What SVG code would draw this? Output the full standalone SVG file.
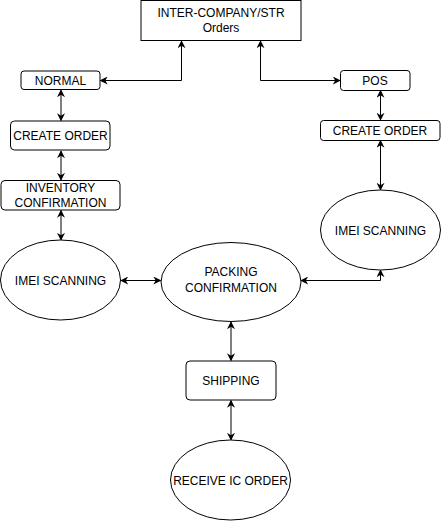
<svg xmlns="http://www.w3.org/2000/svg" width="441" height="521" viewBox="0 0 441 521">
<defs>
<style>
.n{fill:#fff;stroke:#000;stroke-width:1}
.t{font-family:"Liberation Sans",Arial,Helvetica,sans-serif;font-size:12px;fill:#000;text-anchor:middle}
.c{fill:none;stroke:#000;stroke-width:1}
</style>
<marker id="a" viewBox="0 0 10 10" refX="9" refY="5" markerWidth="8" markerHeight="8" orient="auto-start-reverse" markerUnits="userSpaceOnUse">
<path d="M0,0 L10,5 L0,10 L3,5 Z" fill="#000"/>
</marker>
</defs>
<rect width="441" height="521" fill="#fff"/>
<g id="connectors">
<path class="c" d="M100.5,80.5 H181.5 V41" marker-start="url(#a)" marker-end="url(#a)"/>
<path class="c" d="M260.5,41 V80.5 H340" marker-start="url(#a)" marker-end="url(#a)"/>
<path class="c" d="M61,90 V120.5" marker-start="url(#a)" marker-end="url(#a)"/>
<path class="c" d="M61,151 V180" marker-start="url(#a)" marker-end="url(#a)"/>
<path class="c" d="M61,210.5 V240" marker-start="url(#a)" marker-end="url(#a)"/>
<path class="c" d="M380.5,90.5 V120" marker-start="url(#a)" marker-end="url(#a)"/>
<path class="c" d="M380.5,140.5 V190" marker-start="url(#a)" marker-end="url(#a)"/>
<path class="c" d="M121,280.5 H160.5" marker-start="url(#a)" marker-end="url(#a)"/>
<path class="c" d="M301,280.5 H380.5 V270" marker-start="url(#a)" marker-end="url(#a)"/>
<path class="c" d="M231,322 V360.5" marker-start="url(#a)" marker-end="url(#a)"/>
<path class="c" d="M231,400.5 V440" marker-start="url(#a)" marker-end="url(#a)"/>
</g>
<g id="intercompany">
<rect class="n" x="141" y="0.5" width="160" height="40"/>
<text class="t" x="221" y="17">INTER-COMPANY/STR</text>
<text class="t" x="221" y="32">Orders</text>
</g>
<g id="normal">
<rect class="n" x="21" y="71" width="79" height="18.5" rx="3"/>
<text class="t" x="60.5" y="84.5">NORMAL</text>
</g>
<g id="create-order-left">
<rect class="n" x="10.5" y="121" width="99.5" height="29" rx="4"/>
<text class="t" x="60.5" y="140">CREATE ORDER</text>
</g>
<g id="inventory-confirmation">
<rect class="n" x="1" y="180.5" width="119" height="29.5" rx="4"/>
<text class="t" x="60.5" y="192">INVENTORY</text>
<text class="t" x="60.5" y="206.5">CONFIRMATION</text>
</g>
<g id="imei-left">
<ellipse class="n" cx="60.5" cy="280" rx="60" ry="40"/>
<text class="t" x="60.5" y="284.5">IMEI SCANNING</text>
</g>
<g id="pos">
<rect class="n" x="340.5" y="70.5" width="69.5" height="20" rx="3"/>
<text class="t" x="375" y="85">POS</text>
</g>
<g id="create-order-right">
<rect class="n" x="320.5" y="120.5" width="119.5" height="20" rx="3"/>
<text class="t" x="380" y="135">CREATE ORDER</text>
</g>
<g id="imei-right">
<ellipse class="n" cx="380.5" cy="230" rx="60" ry="40"/>
<text class="t" x="380.5" y="234.5">IMEI SCANNING</text>
</g>
<g id="packing">
<ellipse class="n" cx="231" cy="282" rx="70" ry="39.5"/>
<text class="t" x="231" y="276">PACKING</text>
<text class="t" x="231" y="292">CONFIRMATION</text>
</g>
<g id="shipping">
<rect class="n" x="186" y="361" width="90" height="39" rx="4"/>
<text class="t" x="231" y="384.5">SHIPPING</text>
</g>
<g id="receive">
<ellipse class="n" cx="230.5" cy="480" rx="60" ry="40"/>
<text class="t" x="230.5" y="484.5">RECEIVE IC ORDER</text>
</g>
</svg>
